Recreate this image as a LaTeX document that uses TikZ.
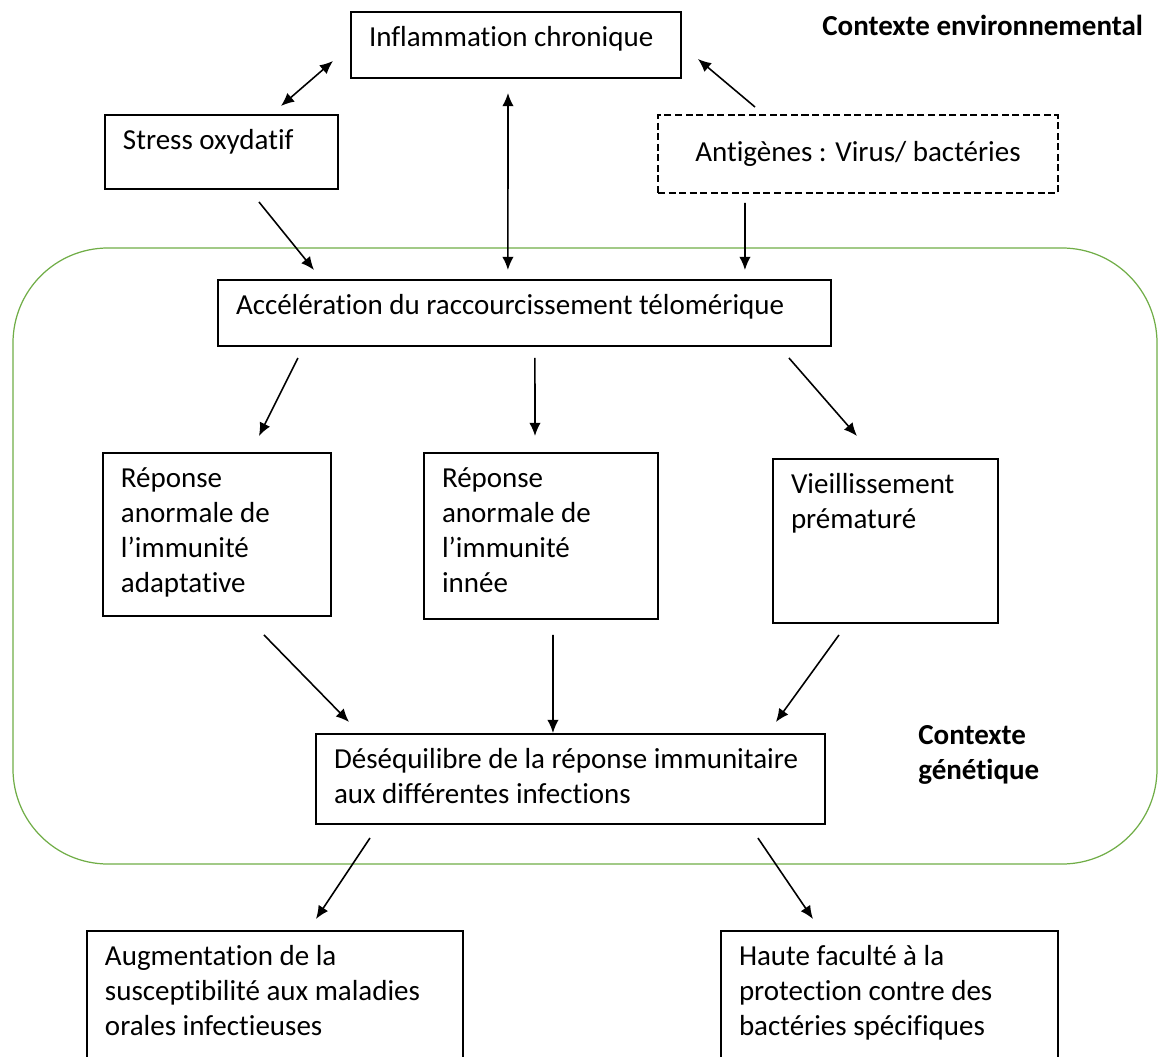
\documentclass[tikz,border=0pt]{standalone}
\usepackage{fontspec}
\setmainfont{Carlito}[Ligatures=NoCommon]
\usepackage{xcolor}
\usetikzlibrary{arrows.meta}
\definecolor{vert}{RGB}{112,173,71}
\newcommand{\bloc}[3]{\parbox[t][#2][t]{#1}{\raggedright\strut #3}}

\begin{document}
\begin{tikzpicture}[
    x=0.02cm,y=-0.02cm,
    every node/.style={
      font=\fontsize{16.5}{19.9}\selectfont
    },
    cadre/.style={
      draw,
      line width=1pt,
      anchor=north west,
      inner xsep=0.36cm,
      inner ysep=0.2cm,
      outer sep=0pt
    },
    titre/.style={
      font=\fontsize{16.5}{19.9}\selectfont\bfseries,
      inner sep=0pt,
      align=left,
      anchor=west
    },
    fleche/.style={-{Latex[length=7.5pt,width=6.5pt]},line width=0.9pt},
    dfleche/.style={{Latex[length=7.5pt,width=6.5pt]}-{Latex[length=7.5pt,width=6.5pt]},line width=0.9pt}
    ]
    \useasboundingbox (0,0) rectangle (1159,1057);
    \clip (0,0) rectangle (1159,1057);
    % zone du contexte genetique
    \draw[vert,line width=0.7pt,rounded corners=1.9cm] (13,248) rectangle (1157,864);

    \node[cadre] (inflam) at (351,12)
      {\bloc{5.88cm}{0.92cm}{Inflammation chronique}};
    \node[cadre] (stress) at (105,115)
      {\bloc{3.94cm}{1.08cm}{Stress oxydatif}};
    \node[cadre,dash pattern={on 4pt off 2pt},anchor=center,
      minimum width=8cm,minimum height=1.56cm] (antig) at (858,154)
      {Antigènes : Virus/ bactéries};
    \node[cadre] (accel) at (218,280)
      {\bloc{11.54cm}{0.92cm}{Accélération du raccourcissement télomérique}};
    \node[cadre] (adapt) at (103,453)
      {\bloc{3.84cm}{2.86cm}{Réponse\\anormale de\\l’immunité\\adaptative}};
    \node[cadre] (innee) at (424,453)
      {\bloc{3.96cm}{2.92cm}{Réponse\\anormale de\\l’immunité\\innée}};
    \node[cadre] (vieil) at (773,459)
      {\bloc{3.78cm}{2.88cm}{Vieillissement\\prématuré}};
    \node[cadre] (deseq) at (316,734)
      {\bloc{9.46cm}{1.4cm}{Déséquilibre de la réponse immunitaire\\aux différentes infections}};
    \node[cadre] (augm) at (87,931)
      {\bloc{6.8cm}{2.28cm}{Augmentation de la\\susceptibilité aux maladies\\orales infectieuses}};
    \node[cadre] (haute) at (721,931)
      {\bloc{6.02cm}{2.28cm}{Haute faculté à la\\protection contre des\\bactéries spécifiques}};

    \node[titre] (envir) at (822,25) {Contexte environnemental};
    \node[titre] (genet) at (918,755) {Contexte\\génétique};

    % contexte environnemental
    \draw[dfleche] ([shift={(59.5,-9)}]stress.north) -- ([shift={(-18,-17)}]inflam.south west);
    \draw[dfleche] ([shift={(-8,15)}]inflam.south) -- ([shift={(-16.5,-10)}]accel.north);
    \draw[fleche] ([shift={(-103,-8)}]antig.north) -- ([shift={(17,-19)}]inflam.south east);
    \draw[fleche] ([shift={(37.5,13)}]stress.south) -- ([shift={(96,-10)}]accel.north west);
    \draw[fleche] ([shift={(-113,10)}]antig.south) -- ([shift={(220.5,-10)}]accel.north);

    % raccourcissement telomerique
    \draw[fleche] ([shift={(-226.5,12)}]accel.south) -- ([shift={(42,-17)}]adapt.north);
    \draw[fleche] ([shift={(10.5,12)}]accel.south) -- ([shift={(-6,-17)}]innee.north);
    \draw[fleche] ([shift={(264.5,12)}]accel.south) -- ([shift={(-28.5,-23)}]vieil.north);

    \draw[fleche] ([shift={(47,19)}]adapt.south) -- ([shift={(33,-12)}]deseq.north west);
    \draw[fleche] ([shift={(12,16)}]innee.south) -- ([shift={(-17.5,-1)}]deseq.north);
    \draw[fleche] ([shift={(-46.5,12)}]vieil.south) -- ([shift={(-49,-12)}]deseq.north east);

    % consequences
    \draw[fleche] ([shift={(54,14)}]deseq.south west) -- ([shift={(41,-12)}]augm.north);
    \draw[fleche] ([shift={(-67,14)}]deseq.south east) -- ([shift={(-76.5,-12)}]haute.north);
\end{tikzpicture}
\end{document}
